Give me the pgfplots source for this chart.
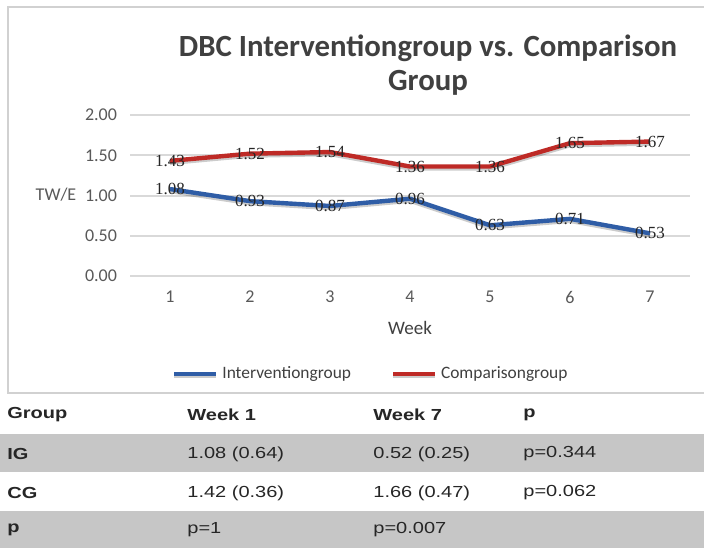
\documentclass[border=0pt]{standalone}
\usepackage{fontspec}
\setmainfont{Carlito}
\newfontfamily\tabfont[FakeStretch=1.25]{Liberation Sans}
\newfontfamily\lblfont{Liberation Serif}
\usepackage{pgfplots}
\pgfplotsset{compat=1.18}
\definecolor{igblue}{HTML}{2F5DA6}
\definecolor{cgred}{HTML}{BE2A26}
\definecolor{gridgray}{HTML}{D9D9D9}
\definecolor{tickgray}{HTML}{595959}
\definecolor{rowgray}{HTML}{C6C6C6}
\definecolor{titlegray}{HTML}{404040}
\begin{document}
\begin{tikzpicture}
\begin{scope}[x=0.5pt,y=-0.5pt]
\path[use as bounding box] (0,0) rectangle (704,548);
\fill[white] (0,0) rectangle (704,548);
\draw[line width=1.2pt, draw=black!18] (8,7) rectangle (712,393);
% title
\node[font=\bfseries\fontsize{15.4}{17}\selectfont, text=titlegray, align=center] at (428,65)
  {DBC Interventiongroup vs. Comparison\\Group};
% table
\fill[rowgray] (0,434) rectangle (704,472);
\fill[rowgray] (0,511) rectangle (704,548);
\tikzset{th/.style={anchor=west, inner sep=0pt, font=\tabfont\bfseries\fontsize{8}{9}\selectfont, text=black!85},
         td/.style={anchor=west, inner sep=0pt, font=\tabfont\fontsize{8}{9}\selectfont, text=black!85}}
\node[th] at (7,415) {Group};
\node[th] at (187,415) {Week 1};
\node[th] at (373,415) {Week 7};
\node[th] at (523,415) {p};
\node[th] at (7,454) {IG};
\node[td] at (187,454) {1.08 (0.64)};
\node[td] at (373,454) {0.52 (0.25)};
\node[td] at (523,454) {p=0.344};
\node[th] at (7,493) {CG};
\node[td] at (187,493) {1.42 (0.36)};
\node[td] at (373,493) {1.66 (0.47)};
\node[td] at (523,493) {p=0.062};
\node[th] at (7,530) {p};
\node[td] at (187,530) {p=1};
\node[td] at (373,530) {p=0.007};
\end{scope}
\begin{axis}[
  at={(65pt,-138pt)}, anchor=south west,
  scale only axis, width=280pt, height=80.5pt,
  xmin=0.5, xmax=7.5, ymin=0, ymax=2,
  axis line style={draw=none},
  xtick={1,2,3,4,5,6,7},
  ytick={0,0.5,1,1.5,2},
  major tick length=0pt,
  ymajorgrids, grid style={gridgray, line width=1pt},
  yticklabel style={/pgf/number format/fixed,/pgf/number format/precision=2,/pgf/number format/fixed zerofill, font=\fontsize{9}{10}\selectfont, text=tickgray, xshift=-3pt},
  xticklabel style={font=\fontsize{9}{10}\selectfont, text=tickgray, yshift=-4pt},
  /pgf/number format/assume math mode=true,
  xlabel={Week},
  xlabel style={at={(rel axis cs:0.5,0)}, anchor=center, yshift=-26pt, font=\fontsize{9.5}{11}\selectfont, text=titlegray},
  ylabel={TW/E},
  ylabel style={at={(rel axis cs:0,0.503)}, rotate=-90, anchor=center, xshift=-37pt, font=\fontsize{9}{10}\selectfont, text=tickgray},
  nodes near coords,
  point meta=y,
  nodes near coords style={anchor=center, font=\lblfont\fontsize{8.5}{10}\selectfont, text=black!85,
     /pgf/number format/fixed,/pgf/number format/precision=2,/pgf/number format/fixed zerofill},
  legend columns=2,
  legend style={draw=none, fill=none, at={(0.432,-0.606)}, anchor=center,
     font=\fontsize{8.7}{10}\selectfont, text=titlegray,
     /tikz/every even column/.append style={column sep=18pt}},
  legend image code/.code={\draw[#1, line width=2pt] (0pt,0pt) -- (21pt,0pt);},
  clip=false,
]
\addplot[igblue, line width=2.2pt, mark=none,
  preaction={draw, black, opacity=0.2, line width=2.2pt, transform canvas={yshift=-1pt}}]
  coordinates {(1,1.08) (2,0.93) (3,0.87) (4,0.96) (5,0.63) (6,0.71) (7,0.53)};
\addlegendentry{Interventiongroup}
\addplot[cgred, line width=2.2pt, mark=none,
  preaction={draw, black, opacity=0.2, line width=2.2pt, transform canvas={yshift=-1pt}}]
  coordinates {(1,1.43) (2,1.52) (3,1.54) (4,1.36) (5,1.36) (6,1.65) (7,1.67)};
\addlegendentry{Comparisongroup}
\end{axis}
\end{tikzpicture}
\end{document}
